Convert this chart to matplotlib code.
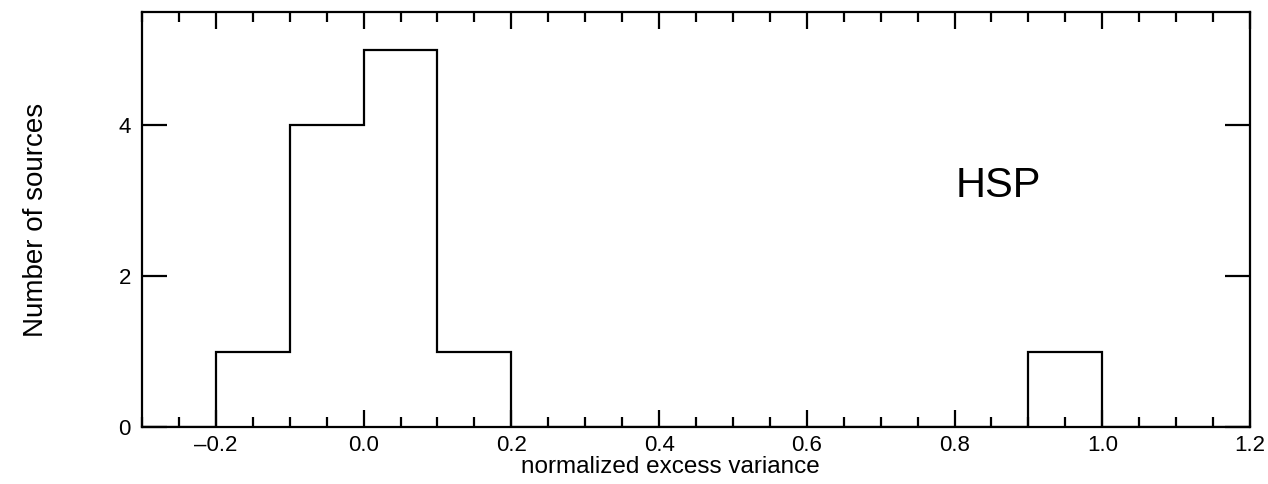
import numpy as np
import matplotlib.pyplot as plt
from matplotlib.ticker import MultipleLocator

plt.rcParams['font.family'] = ['Liberation Sans', 'DejaVu Sans']

# histogram of normalized excess variance, HSP sources
bin_edges = np.round(np.arange(-0.3, 1.21, 0.1), 2)
counts = [0, 1, 4, 5, 1, 0, 0, 0, 0, 0, 0, 0, 1, 0, 0]

fig = plt.figure(figsize=(12.68, 4.84), dpi=100)
ax = fig.add_axes([142 / 1268, 1 - 427 / 484, (1250 - 142) / 1268, (427 - 12) / 484])

ax.stairs(counts, bin_edges, color='black', linewidth=1.6)

ax.set_xlim(-0.3, 1.2)
ax.set_ylim(0, 5.5)
ax.xaxis.set_major_locator(MultipleLocator(0.2))
ax.xaxis.set_minor_locator(MultipleLocator(0.05))
ax.yaxis.set_major_locator(MultipleLocator(2))
ax.set_xticklabels([f'{v:.1f}'.replace('-', '\u2013') for v in ax.get_xticks()])
ax.tick_params(axis='x', which='major', direction='in', length=12, width=1.6,
               top=True, labelsize=16, pad=6)
ax.tick_params(axis='x', which='minor', direction='in', length=7, width=1.6, top=True)
ax.tick_params(axis='y', which='major', direction='in', length=18, width=1.6,
               right=True, labelsize=16, pad=8)
for s in ax.spines.values():
    s.set_linewidth(1.6)

ax.set_xlabel('normalized excess variance', fontsize=17.5, labelpad=0)
ax.xaxis.label.set_x(0.477)
ax.set_ylabel('Number of sources', fontsize=20, labelpad=50)
ax.text(0.859, 3.2, 'HSP', fontsize=30, ha='center', va='center')

fig.savefig('out.png', dpi=100)
